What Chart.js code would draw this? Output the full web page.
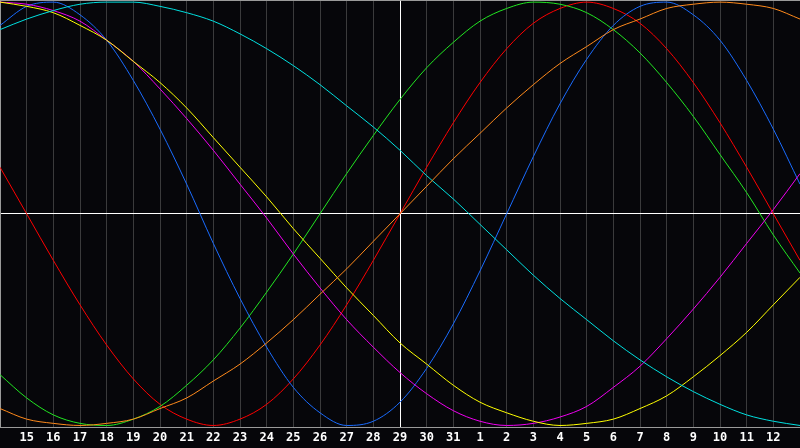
<!DOCTYPE html>
<html>
<head>
<meta charset="utf-8">
<title>Biorhythm</title>
<script src="https://cdn.jsdelivr.net/npm/chart.js@4.4.1/dist/chart.umd.min.js"></script>
<style>
  html, body { margin: 0; padding: 0; background: #06060a; }
  #wrap { width: 800px; height: 448px; }
</style>
</head>
<body>
<div id="wrap"><canvas id="bioChart" width="800" height="448"></canvas></div>
<script>
// dias mostrados (o primeiro e o ultimo ficam nas bordas, sem rotulo)
const days = [14, 15, 16, 17, 18, 19, 20, 21, 22, 23, 24, 25, 26, 27, 28, 29, 30, 31,
              1, 2, 3, 4, 5, 6, 7, 8, 9, 10, 11, 12, 13];
const todayIndex = 15; // dia 29, linha branca

// valores, -1 .. 1
const red = [0.22, 0, -0.22, -0.43, -0.62, -0.78, -0.90, -0.97, -1, -0.97, -0.90, -0.78, -0.62, -0.43, -0.22, 0,
             0.22, 0.43, 0.62, 0.78, 0.90, 0.97, 1, 0.97, 0.90, 0.78, 0.62, 0.43, 0.22, 0, -0.22];
const green = [-0.76, -0.87, -0.95, -0.99, -1, -0.97, -0.91, -0.81, -0.69, -0.54, -0.37, -0.19, 0, 0.19, 0.37, 0.54,
               0.69, 0.81, 0.91, 0.97, 1, 0.99, 0.95, 0.87, 0.76, 0.62, 0.46, 0.28, 0.10, -0.10, -0.28];
const blue = [0.89, 0.98, 1, 0.94, 0.82, 0.63, 0.40, 0.14, -0.14, -0.40, -0.63, -0.82, -0.94, -1, -0.98, -0.89,
              -0.73, -0.52, -0.27, 0, 0.27, 0.52, 0.73, 0.89, 0.98, 1, 0.94, 0.82, 0.63, 0.40, 0.14];
const cyan = [0.87, 0.92, 0.96, 0.99, 1, 1, 0.98, 0.95, 0.91, 0.85, 0.78, 0.70, 0.61, 0.51, 0.41, 0.30,
              0.18, 0.07, -0.05, -0.17, -0.29, -0.40, -0.50, -0.60, -0.69, -0.77, -0.84, -0.90, -0.95, -0.98, -1];
const orange = [-0.92, -0.97, -0.99, -1, -0.99, -0.97, -0.92, -0.87, -0.79, -0.71, -0.61, -0.50, -0.38, -0.26, -0.13, 0,
                0.13, 0.26, 0.38, 0.50, 0.61, 0.71, 0.79, 0.87, 0.92, 0.97, 0.99, 1, 0.99, 0.97, 0.92];
const yellow = [1, 0.98, 0.95, 0.89, 0.82, 0.72, 0.62, 0.50, 0.36, 0.22, 0.08, -0.07, -0.21, -0.35, -0.48, -0.61,
                -0.71, -0.81, -0.89, -0.94, -0.98, -1, -0.99, -0.97, -0.92, -0.86, -0.77, -0.67, -0.56, -0.43, -0.30];
const magenta = [1, 0.99, 0.96, 0.91, 0.82, 0.72, 0.59, 0.45, 0.30, 0.14, -0.02, -0.19, -0.35, -0.50, -0.63, -0.75,
                 -0.85, -0.93, -0.98, -1, -0.99, -0.96, -0.91, -0.82, -0.72, -0.59, -0.45, -0.30, -0.14, 0.02, 0.19];

const gridColor = '#3a3a3c';
const borderColor = '#9a9a9a';

function linha(data, color) {
    return {
        data: data,
        borderColor: color,
        borderWidth: 1,
        pointRadius: 0,
        fill: false,
        cubicInterpolationMode: 'monotone'
    };
}

const ctx = document.getElementById('bioChart').getContext('2d');
new Chart(ctx, {
    type: 'line',
    data: {
        labels: days,
        datasets: [
            linha(orange, '#ff8a1c'),
            linha(cyan, '#00e0e0'),
            linha(yellow, '#ffff00'),
            linha(magenta, '#f000f0'),
            linha(blue, '#1a6cff'),
            linha(green, '#22e622'),
            linha(red, '#ff0000')
        ]
    },
    options: {
        responsive: false,
        animation: false,
        events: [],
        layout: { padding: 0, autoPadding: false },
        plugins: { legend: { display: false }, tooltip: { enabled: false } },
        scales: {
            x: {
                type: 'category',
                offset: false,
                grid: {
                    offset: false,
                    drawTicks: false,
                    color: (c) => c.index === todayIndex ? '#ffffff' : (c.index === 0 ? borderColor : gridColor)
                },
                border: { color: borderColor, width: 1 },
                ticks: {
                    autoSkip: false,
                    maxRotation: 0,
                    minRotation: 0,
                    padding: 0,
                    color: '#ffffff',
                    font: { family: "'DejaVu Sans Mono', monospace", weight: 'bold', size: 12, lineHeight: 1.7 },
                    callback: (val, idx) => (idx === 0 || idx === days.length - 1) ? '' : String(days[idx])
                }
            },
            y: {
                min: -1.01,
                max: 1.01,
                grid: {
                    drawTicks: false,
                    color: (c) => c.tick.value === 0 ? '#ffffff' : borderColor
                },
                border: { color: borderColor, width: 1 },
                ticks: { display: false, stepSize: 1.01 }
            }
        }
    }
});
</script>
</body>
</html>
